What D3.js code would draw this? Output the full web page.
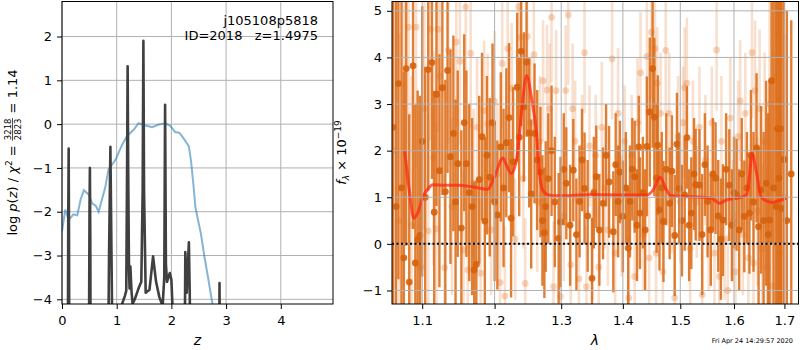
<!DOCTYPE html>
<html>
<head>
<meta charset="utf-8">
<script src="https://d3js.org/d3.v7.min.js"></script>
<style>
body { margin: 0; background: #fff; }
text { font-family: "DejaVu Sans", sans-serif; }
</style>
</head>
<body>
<script>
// left panel: redshift probability + chi2 curve
var pzZ = [0, 0.105, 0.115, 0.122, 0.128, 0.135, 0.49, 0.503, 0.510, 0.517, 0.525, 0.84, 0.86, 0.885, 0.905, 0.93,
  1.08, 1.10, 1.15, 1.175, 1.19, 1.20, 1.21, 1.225, 1.235, 1.25, 1.27, 1.29, 1.33, 1.40, 1.45, 1.475, 1.488, 1.50,
  1.53, 1.60, 1.665, 1.72, 1.78, 1.84, 1.87, 1.885, 1.90, 1.92, 1.97, 2.00, 2.02, 2.08, 2.24, 2.255, 2.28, 2.32,
  2.335, 2.36, 2.87, 2.88, 2.89, 4.95];
var pzLog = [-6, -6, -2, -0.56, -2.5, -6, -6, -2, -1.0, -2.5, -6, -6, -3, -0.52, -3, -6,
  -6, -4.1, -3.92, -3.8, -1.0, 1.32, -1.0, -3.3, -3.75, -3.25, -3.8, -4.1, -4.0, -3.75, -3.6, -1.5, 1.9, -1.5,
  -3.85, -3.78, -3.02, -3.6, -3.95, -4.15, -3.5, 0.44, -3.2, -3.6, -3.4, -3.55, -4.15, -6, -6, -2.92, -3.85, -2.7,
  -3.85, -6, -6, -3.63, -6, -6];

var chiZ = [0, 0.06, 0.12, 0.21, 0.28, 0.34, 0.40, 0.49, 0.55, 0.62, 0.67, 0.79, 0.85, 0.98, 1.10, 1.19, 1.31, 1.40,
  1.49, 1.65, 1.77, 1.89, 1.98, 2.07, 2.15, 2.22, 2.32, 2.36, 2.40, 2.44, 2.48, 2.54, 2.60, 2.67, 2.75, 2.80];
var chiLog = [-2.44, -1.95, -2.19, -2.06, -2.08, -1.72, -1.51, -1.61, -1.81, -1.87, -2.0, -1.45, -1.04, -0.81, -0.47, -0.27, -0.13, 0.02,
  -0.02, -0.07, -0.01, 0.02, -0.04, -0.18, -0.2, -0.32, -0.51, -0.85, -1.35, -1.9, -2.15, -2.5, -3.0, -3.5, -4.1, -4.6];

var zTicks = [0, 1, 2, 3, 4];
var logTicks = [-4, -3, -2, -1, 0, 1, 2];

// right panel: spectrum
var lamTicks = [1.1, 1.2, 1.3, 1.4, 1.5, 1.6, 1.7];
var fluxTicks = [-1, 0, 1, 2, 3, 4, 5];

var darkWave = [1.062, 1.066, 1.069, 1.073, 1.076, 1.079, 1.083, 1.088, 1.091, 1.094,
  1.097, 1.100, 1.104, 1.108, 1.113, 1.116, 1.119, 1.123, 1.127, 1.131,
  1.134, 1.138, 1.142, 1.145, 1.148, 1.153, 1.157, 1.160, 1.164, 1.168,
  1.171, 1.174, 1.178, 1.182, 1.186, 1.189, 1.193, 1.197, 1.200, 1.204,
  1.209, 1.213, 1.217, 1.221, 1.224, 1.227, 1.233, 1.236, 1.239, 1.243,
  1.247, 1.251, 1.254, 1.259, 1.263, 1.268, 1.271, 1.274, 1.276, 1.280,
  1.285, 1.290, 1.296, 1.299,
  1.304, 1.308, 1.314, 1.319, 1.324, 1.329, 1.333, 1.337, 1.342, 1.349,
  1.352, 1.356, 1.361, 1.367, 1.372, 1.377, 1.384, 1.388, 1.392, 1.395,
  1.400, 1.405, 1.409, 1.412, 1.416, 1.420, 1.424, 1.427, 1.429, 1.434,
  1.438, 1.441, 1.446, 1.451, 1.454, 1.458, 1.460, 1.463, 1.467, 1.470,
  1.475, 1.481, 1.485, 1.490, 1.494, 1.498, 1.503, 1.508, 1.512, 1.516,
  1.520, 1.525, 1.528, 1.535, 1.540, 1.545, 1.550, 1.556, 1.560, 1.565,
  1.570, 1.575, 1.579, 1.585, 1.591, 1.596, 1.600, 1.605, 1.610, 1.615,
  1.620, 1.625, 1.630, 1.633, 1.638, 1.644, 1.648, 1.653, 1.658, 1.663,
  1.667, 1.670, 1.674, 1.678, 1.683, 1.686, 1.689, 1.692, 1.694, 1.699,
  1.705, 1.714];
var darkFlux = [2.5, 0.8, 3.44, 1.2, -0.3, 3.76, -0.82, 3.82, -0.41, 0.09,
  0.18, 2.2, 1.0, 3.74, 3.89, 0.68, 3.21, 1.57, 3.35, 1.12,
  3.72, 1.87, 2.37, 0.9, 1.72, 0.34, 2.6, 1.72, 1.1, 0.8,
  -0.56, -0.44, 1.38, 2.3, 0.49, 1.9, 1.43, 2.6, 0.9, 0.62,
  2.08, 1.2, 2.17, 2.71, 0.55, 1.76, 3.36, 2.29, 4.13, 2.94,
  3.9, 2.38, 1.07, 2.37, 1.8, 1.54, 0.5, 0.24, 0.8, 1.4,
  2.0, 0.9, 0.12, 0.47,
  1.6, 1.3, 0.4, 1.58, 0.2, 0.91, 1.8, 1.19, 0.6, -0.74,
  1.1, 1.44, 0.3, 0.87, 1.9, 1.33, 0.26, 1.7, 0.91, 1.54,
  0.59, 1.2, -0.09, 0.91, 1.6, 1.44, 0.4, 2.08, 0.66, 1.1,
  0.3, 2.09, 2.83, 3.76, 2.72, 1.41, 2.12, 0.73, 1.2, 0.48,
  1.6, 0.87, 1.56, 0.18, 2.14, 1.19, 0.5, 1.05, 2.28, 0.4,
  0.66, 1.5, 1.27, 1.26, 0.2, 1.7, 0.91, 0.3, 1.5, 1.41,
  0.6, 0.1, 0.51, 1.6, 1.26, 0.4, 1.1, 1.05, 0.3, 1.5,
  0.59, 1.2, 0.66, 1.9, 0.9, 2.06, 0.37, 1.16, 0.5, 1.3,
  0.2, 0.51, 3.5, 1.2, 0.8, 2.47, 1.41, 2.47, 0.76, 1.81,
  0.5, 1.5];
var darkErr = [4.5, 4.5, 4.2, 4.0, 4.0, 3.8, 3.6, 3.5, 3.4, 3.2,
  3.0, 2.9, 2.8, 2.6, 2.5, 2.6, 2.4, 2.5, 2.3, 2.4,
  2.2, 2.3, 2.1, 2.2, 2.0, 2.1, 1.9, 2.0, 1.9, 1.9,
  1.9, 1.8, 1.8, 1.8, 1.8, 1.7, 1.7, 1.7, 1.7, 1.6,
  1.6, 1.7, 1.6, 1.6, 1.7, 1.6, 1.6, 1.7, 1.6, 1.6,
  1.6, 1.6, 1.6, 1.5, 1.5, 1.4, 1.4, 1.4, 1.4, 1.4,
  1.4, 1.4, 1.4, 1.4,
  1.2, 1.2, 1.3, 1.1, 1.2, 1.2, 1.1, 1.2, 1.2, 1.3,
  1.2, 1.1, 1.2, 1.2, 1.1, 1.2, 1.3, 1.1, 1.2, 1.1,
  1.2, 1.2, 1.3, 1.2, 1.1, 1.2, 1.2, 1.1, 1.2, 1.2,
  1.3, 1.5, 1.6, 1.7, 1.7, 1.6, 1.5, 1.3, 1.2, 1.3,
  1.2, 1.2, 1.2, 1.3, 1.1, 1.2, 1.2, 1.2, 1.1, 1.2,
  1.2, 1.2, 1.2, 1.2, 1.3, 1.1, 1.2, 1.2, 1.2, 1.2,
  1.2, 1.3, 1.2, 1.2, 1.2, 1.2, 1.2, 1.2, 1.3, 1.2,
  1.2, 1.2, 1.3, 1.4, 1.5, 1.6, 1.7, 1.8, 1.9, 2.2,
  2.6, 3.0, 3.5, 4.0, 4.5, 4.5, 4.5, 4.5, 4.5, 4.5,
  4.5, 3.3];

var lightWave = [1.064, 1.070, 1.076, 1.082, 1.086, 1.092, 1.098, 1.103, 1.108, 1.111,
  1.115, 1.119, 1.121, 1.124, 1.130, 1.135, 1.140, 1.146, 1.151, 1.156,
  1.159, 1.162, 1.166, 1.170, 1.175, 1.180, 1.185, 1.190, 1.195, 1.200,
  1.204, 1.208, 1.211, 1.215, 1.219, 1.225, 1.230, 1.235, 1.238, 1.242,
  1.245, 1.248, 1.253, 1.258, 1.263, 1.267, 1.272, 1.278, 1.282, 1.285,
  1.288, 1.292, 1.299,
  1.304, 1.307, 1.311, 1.315, 1.318, 1.322, 1.328, 1.333, 1.337, 1.340,
  1.345, 1.350, 1.355, 1.360, 1.365, 1.370, 1.375, 1.382, 1.387, 1.392,
  1.398, 1.403, 1.410, 1.415, 1.420, 1.425, 1.430, 1.435, 1.441, 1.445,
  1.449, 1.455, 1.457, 1.459, 1.465, 1.469, 1.474, 1.480, 1.485, 1.490,
  1.496, 1.500, 1.505, 1.508, 1.512, 1.518, 1.523, 1.530, 1.535, 1.540,
  1.546, 1.552, 1.558, 1.563, 1.567, 1.572, 1.576, 1.582, 1.588, 1.593,
  1.598, 1.603, 1.608, 1.612, 1.617, 1.622, 1.628, 1.635, 1.638, 1.641,
  1.646, 1.650, 1.655, 1.660, 1.665, 1.670, 1.675, 1.680, 1.683, 1.686,
  1.690, 1.695, 1.700];
var lightFlux = [2.0, 0.5, 3.0, 4.65, 0.4, 4.65, -0.5, 2.9, 0.28, 4.61,
  1.85, 0.32, 4.6, 3.6, -0.51, 4.15, 0.8, 4.33, 3.92, -0.13,
  5.08, -0.56, 4.09, 1.3, 2.5, -0.63, 2.86, 2.58, 0.3, 3.06,
  1.5, -0.83, 3.87, -1.12, 4.19, 3.34, 0.1, 5.09, 4.43, 1.4,
  -0.85, 4.45, 2.6, 4.06, 0.9, 2.2, 3.5, 3.3, 2.9, 4.86,
  -0.92, 3.29, -1.13,
  0.6, 3.29, 4.91, -0.45, 2.9, 2.2, -0.75, 2.0, 4.1, -0.92,
  2.1, 0.0, 1.9, -0.5, 2.5, 1.2, 0.3, 3.97, -0.2, 2.8,
  0.6, 2.2, -1.16, 1.9, -0.7, 2.6, 3.67, 0.2, 4.02, -0.3,
  4.54, 4.19, -0.2, 3.45, 2.8, -0.6, 4.15, 2.8, 1.0, -1.16,
  2.3, 0.9, 2.6, 3.35, 3.45, -0.1, 2.2, 0.9, 2.5, -1.09,
  1.8, 0.3, 2.6, -0.2, 4.16, -0.7, 2.2, 0.1, -1.0, 2.7,
  0.5, -0.6, 2.3, 3.07, 0.2, 2.8, -0.3, 4.1, -0.41, 3.29,
  0.7, 2.9, -0.1, 2.2, -0.5, 3.0, -0.9, 4.06, 3.6, 4.5,
  -0.2, 5.0, 1.0];
var lightErr = [4.5, 4.0, 3.8, 3.5, 3.2, 3.0, 2.8, 2.6, 2.5, 2.4,
  2.3, 2.3, 2.2, 2.1, 2.0, 2.0, 1.9, 1.8, 1.8, 1.7,
  1.7, 1.7, 1.6, 1.6, 1.5, 1.6, 1.5, 1.5, 1.4, 1.5,
  1.5, 1.4, 1.4, 1.5, 1.5, 1.4, 1.3, 1.5, 1.4, 1.5,
  1.4, 1.3, 1.4, 1.4, 1.5, 1.4, 1.3, 1.4, 1.4, 1.4,
  1.4, 1.3, 1.4,
  1.4, 1.4, 1.5, 1.4, 1.4, 1.3, 1.3, 1.2, 1.3, 1.3,
  1.3, 1.2, 1.3, 1.3, 1.4, 1.3, 1.2, 1.3, 1.3, 1.4,
  1.3, 1.2, 1.3, 1.3, 1.3, 1.4, 1.3, 1.2, 1.3, 1.3,
  1.4, 1.3, 1.3, 1.2, 1.3, 1.3, 1.4, 1.3, 1.2, 1.3,
  1.3, 1.3, 1.2, 1.3, 1.4, 1.3, 1.3, 1.2, 1.3, 1.3,
  1.4, 1.3, 1.2, 1.3, 1.3, 1.3, 1.4, 1.3, 1.2, 1.3,
  1.3, 1.3, 1.2, 1.3, 1.3, 1.3, 1.3, 1.4, 1.4, 1.5,
  1.6, 1.7, 1.8, 1.9, 2.1, 2.3, 2.5, 2.8, 3.0, 3.2,
  3.4, 3.5, 3.5];

var modelWave = [1.077, 1.083, 1.089, 1.094, 1.101, 1.108, 1.114, 1.130, 1.148, 1.170,
  1.190, 1.200, 1.212, 1.216, 1.224, 1.231, 1.234, 1.240, 1.247, 1.255,
  1.262, 1.266, 1.271, 1.280, 1.298, 1.351, 1.400, 1.441, 1.452, 1.464,
  1.474, 1.483, 1.523, 1.557, 1.573, 1.585, 1.614, 1.624, 1.630, 1.635,
  1.643, 1.653, 1.662, 1.676, 1.690, 1.704];
var modelFlux = [2.01, 1.16, 0.55, 0.66, 1.01, 1.19, 1.27, 1.26, 1.26, 1.22,
  1.17, 1.44, 1.84, 1.73, 1.51, 1.73, 2.01, 2.9, 3.61, 3.08,
  2.37, 1.6, 1.16, 1.05, 1.03, 1.06, 1.05, 1.05, 1.16, 1.43,
  1.19, 1.03, 1.01, 0.98, 0.87, 0.94, 1.0, 1.05, 1.44, 1.94,
  1.58, 1.01, 0.93, 0.89, 0.93, 0.98];

var svg = d3.select("body").append("svg")
    .attr("width", 800)
    .attr("height", 350)
    .style("display", "block");

var xL = d3.scaleLinear().domain([0, 4.955]).range([62, 333]);
var yL = d3.scaleLinear().domain([-4.107, 2.80]).range([304, 1.5]);
var xR = d3.scaleLog().domain([1.0608, 1.729]).range([392, 798.5]);
var yR = d3.scaleLinear().domain([-1.29, 5.2]).range([304, 1.5]);

var defs = svg.append("defs");
defs.append("clipPath").attr("id", "clipL").append("rect")
    .attr("x", 62).attr("y", 1.5).attr("width", 271).attr("height", 302.5);
defs.append("clipPath").attr("id", "clipR").append("rect")
    .attr("x", 392).attr("y", 1.5).attr("width", 406.5).attr("height", 302.5);

var styleAxis = function(g) {
    g.select(".domain").remove();
    g.attr("font-family", "DejaVu Sans").attr("font-size", 13);
    g.selectAll("line").attr("stroke", "#000").attr("stroke-width", 1);
    g.selectAll("text").attr("fill", "#000");
};

var drawGrid = function(g, xs, ys, xv, yv) {
    var r = xs.range(), d = ys.range();
    g.selectAll(".gx").data(xv).enter().append("line")
        .attr("x1", v => xs(v)).attr("x2", v => xs(v))
        .attr("y1", d[1]).attr("y2", d[0]);
    g.selectAll(".gy").data(yv).enter().append("line")
        .attr("x1", r[0]).attr("x2", r[1])
        .attr("y1", v => ys(v)).attr("y2", v => ys(v));
    g.attr("stroke", "#b0b0b0").attr("stroke-width", 1);
};

// ---------- left panel ----------
drawGrid(svg.append("g"), xL, yL, zTicks, logTicks);

var plotL = svg.append("g").attr("clip-path", "url(#clipL)");

plotL.append("path")
    .datum(d3.zip(chiZ, chiLog))
    .attr("fill", "none")
    .attr("stroke", "#1f77b4")
    .attr("stroke-opacity", 0.55)
    .attr("stroke-width", 2)
    .attr("d", d3.line().x(d => xL(d[0])).y(d => yL(d[1])));

plotL.append("path")
    .datum(d3.zip(pzZ, pzLog))
    .attr("fill", "none")
    .attr("stroke", "#404040")
    .attr("stroke-width", 2.6)
    .attr("stroke-linejoin", "round")
    .attr("d", d3.line().x(d => xL(d[0])).y(d => yL(d[1])));

svg.append("g").attr("transform", "translate(0,304)")
    .call(d3.axisBottom(xL).tickValues(zTicks).tickFormat(d3.format("d")).tickSize(5).tickPadding(7))
    .call(styleAxis);
svg.append("g").attr("transform", "translate(62,0)")
    .call(d3.axisLeft(yL).tickValues(logTicks).tickFormat(d3.format("d")).tickSize(5).tickPadding(5))
    .call(styleAxis);

svg.append("rect").attr("x", 62).attr("y", 1.5).attr("width", 271).attr("height", 302.5)
    .attr("fill", "none").attr("stroke", "#000").attr("stroke-width", 1);

svg.append("text").attr("x", 318).attr("y", 24.5).attr("text-anchor", "end")
    .attr("font-size", 13).text("j105108p5818");
svg.append("text").attr("x", 318).attr("y", 39.5).attr("text-anchor", "end")
    .attr("font-size", 13).style("white-space", "pre").text("ID=2018   z=1.4975");

svg.append("text").attr("x", 197.5).attr("y", 345).attr("text-anchor", "middle")
    .attr("font-size", 14).attr("font-style", "italic").text("z");

// y label with the chi2 fraction
var yLab = svg.append("g").attr("transform", "translate(17,152.5) rotate(-90)");
var yIn = yLab.append("g");
var t1 = yIn.append("text").attr("font-size", 13);
t1.append("tspan").text("log ");
t1.append("tspan").attr("font-style", "italic").text("p");
t1.append("tspan").text("(");
t1.append("tspan").attr("font-style", "italic").text("z");
t1.append("tspan").text(") / ");
t1.append("tspan").attr("font-style", "italic").text("χ");
t1.append("tspan").attr("font-size", 9).attr("dy", -5).text("2");
t1.append("tspan").attr("dy", 5).style("white-space", "pre").text(" = ");
var w1 = t1.node().getComputedTextLength();
var num = yIn.append("text").attr("font-size", 8.5).attr("y", -6.5).text("3218");
var den = yIn.append("text").attr("font-size", 8.5).attr("y", 3.5).text("2823");
var wf = Math.max(num.node().getComputedTextLength(), den.node().getComputedTextLength()) + 2;
num.attr("x", w1 + 1);
den.attr("x", w1 + 1);
yIn.append("line").attr("x1", w1 + 0.5).attr("x2", w1 + wf - 0.5)
    .attr("y1", -4.5).attr("y2", -4.5).attr("stroke", "#000").attr("stroke-width", 0.7);
var t2 = yIn.append("text").attr("font-size", 13).attr("x", w1 + wf)
    .style("white-space", "pre").text(" = 1.14");
var total = w1 + wf + t2.node().getComputedTextLength();
yIn.attr("transform", "translate(" + (-total / 2) + ",0)");

// ---------- right panel ----------
var plotR = svg.append("g").attr("clip-path", "url(#clipR)");

var light = d3.zip(lightWave, lightFlux, lightErr);
var dark = d3.zip(darkWave, darkFlux, darkErr);

plotR.append("g").selectAll("line").data(light).enter().append("line")
    .attr("x1", d => xR(d[0])).attr("x2", d => xR(d[0]))
    .attr("y1", d => yR(d[1] - d[2])).attr("y2", d => yR(d[1] + d[2]))
    .attr("stroke", "#e5782c").attr("stroke-opacity", 0.24).attr("stroke-width", 2.6);
plotR.append("g").selectAll("circle").data(light).enter().append("circle")
    .attr("cx", d => xR(d[0])).attr("cy", d => yR(d[1])).attr("r", 3.4)
    .attr("fill", "#e5782c").attr("fill-opacity", 0.3);

plotR.append("g").selectAll("line").data(dark).enter().append("line")
    .attr("x1", d => xR(d[0])).attr("x2", d => xR(d[0]))
    .attr("y1", d => yR(d[1] - d[2])).attr("y2", d => yR(d[1] + d[2]))
    .attr("stroke", "#dc6c18").attr("stroke-opacity", 0.88).attr("stroke-width", 2.4);
plotR.append("g").selectAll("circle").data(dark).enter().append("circle")
    .attr("cx", d => xR(d[0])).attr("cy", d => yR(d[1])).attr("r", 3.4)
    .attr("fill", "#d5620c").attr("fill-opacity", 0.9);

drawGrid(svg.append("g"), xR, yR, lamTicks, fluxTicks);

plotR.append("path")
    .datum(d3.zip(modelWave, modelFlux))
    .attr("fill", "none")
    .attr("stroke", "#ff2a12")
    .attr("stroke-opacity", 0.75)
    .attr("stroke-width", 3)
    .attr("stroke-linejoin", "round")
    .attr("d", d3.line().curve(d3.curveMonotoneX).x(d => xR(d[0])).y(d => yR(d[1])));

svg.append("line")
    .attr("x1", 392).attr("x2", 798.5).attr("y1", yR(0)).attr("y2", yR(0))
    .attr("stroke", "#000").attr("stroke-width", 2).attr("stroke-dasharray", "2,2.5");

svg.append("g").attr("transform", "translate(0,304)")
    .call(d3.axisBottom(xR).tickValues(lamTicks).tickFormat(d3.format(".1f")).tickSize(5).tickPadding(7))
    .call(styleAxis);
svg.append("g").attr("transform", "translate(392,0)")
    .call(d3.axisLeft(yR).tickValues(fluxTicks).tickFormat(d3.format("d")).tickSize(5).tickPadding(5))
    .call(styleAxis);

svg.append("rect").attr("x", 392).attr("y", 1.5).attr("width", 406.5).attr("height", 302.5)
    .attr("fill", "none").attr("stroke", "#000").attr("stroke-width", 1);

svg.append("text").attr("x", 595).attr("y", 345).attr("text-anchor", "middle")
    .attr("font-size", 14).attr("font-style", "italic").text("λ");

var fLab = svg.append("text").attr("transform", "translate(346,152.5) rotate(-90)")
    .attr("text-anchor", "middle").attr("font-size", 13);
fLab.append("tspan").attr("font-style", "italic").text("f");
fLab.append("tspan").attr("font-style", "italic").attr("font-size", 9).attr("dy", 3).text("λ");
fLab.append("tspan").attr("dy", -3).style("white-space", "pre").text(" × 10");
fLab.append("tspan").attr("font-size", 9).attr("dy", -5).text("−19");

svg.append("text").attr("x", 793).attr("y", 343).attr("text-anchor", "end")
    .attr("font-size", 6.5).text("Fri Apr 24 14:29:57 2020");
</script>
</body>
</html>
